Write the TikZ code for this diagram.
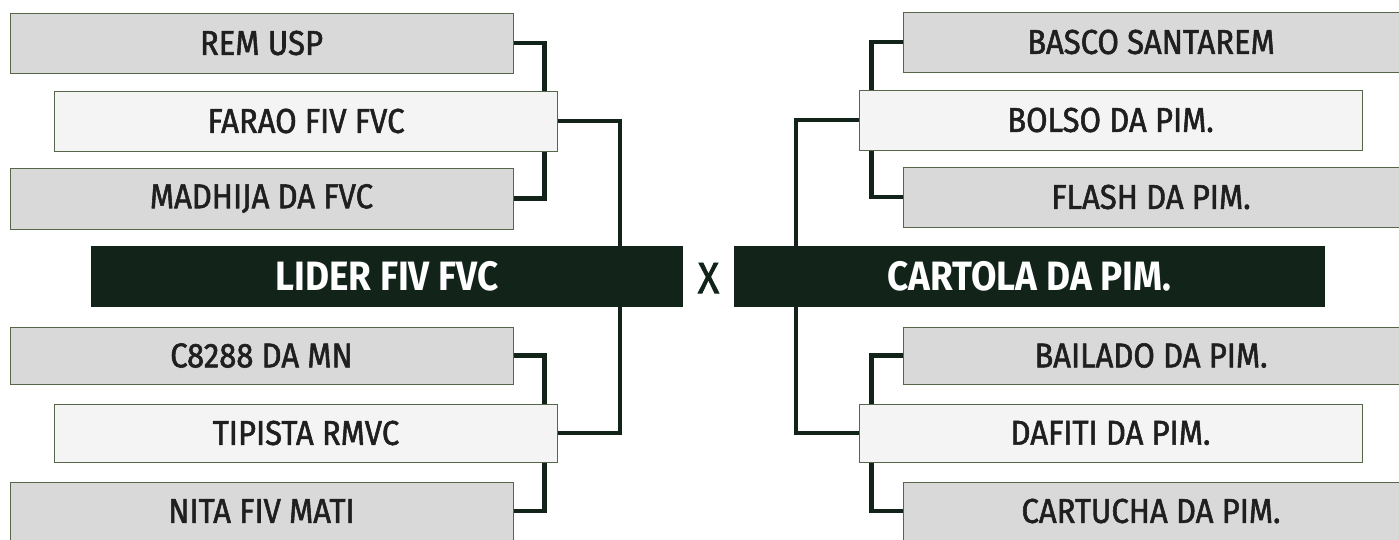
\documentclass[tikz,border=0pt]{standalone}
\usepackage{fontspec}
\setmainfont{Fira Sans}
\newfontfamily\teamfont{Fira Sans}[FakeStretch=0.9, FakeBold=1.6]
\newfontfamily\finalfont{Fira Sans}[FakeStretch=0.9]
\usetikzlibrary{backgrounds, positioning}

\definecolor{pitch}{HTML}{12241A}
\definecolor{boxline}{HTML}{55664A}
\definecolor{seedgray}{HTML}{D9D9D9}
\definecolor{seedlight}{HTML}{F4F4F4}

\begin{document}
\begin{tikzpicture}[
      x=1pt, y=-1pt,
      team/.style = {draw=boxline, line width=1pt, fill=seedgray, inner sep=0pt,
                     minimum width=503pt, minimum height=60pt, text=black!88,
                     font=\teamfont\fontsize{34.5}{34.5}\selectfont},
      seed/.style = {team, fill=seedlight},
      finalist/.style = {fill=pitch, inner sep=0pt, minimum width=592pt,
                         minimum height=61pt, text=white,
                         font=\finalfont\fontsize{41}{41}\selectfont\bfseries},
      bracket/.style = {draw=pitch, line width=4.5pt},
      link/.style = {draw=pitch, line width=4pt},
    ]
    \useasboundingbox (0,0) rectangle (1399,539);

    %% Left half of the draw
    \node (remusp)  [team] at (261.5, 43)  {REM USP};
    \node (farao)   [seed] at (306, 121)   {FARAO FIV FVC};
    \node (madhija) [team, minimum height=61pt] at (261.5, 198.5) {MADHIJA DA FVC};
    \node (lider)   [finalist] at (387, 276.5) {LIDER FIV FVC};
    \node (celta)   [team, minimum height=57pt] at (261.5, 355.5) {C8288 DA MN};
    \node (tipista) [seed, minimum height=58pt] at (306, 433) {TIPISTA RMVC};
    \node (nita)    [team, minimum height=58pt] at (261.5, 511) {NITA FIV MATI};

    %% Right half of the draw
    \node (basco)    [team, minimum width=496pt] at (1151, 42) {BASCO SANTAREM};
    \node (bolso)    [seed] at (1110.5, 120) {BOLSO DA PIM.};
    \node (flash)    [team, minimum width=496pt] at (1151, 197) {FLASH DA PIM.};
    \node (cartola)  [finalist, minimum width=591pt] at (1029.5, 276.5) {CARTOLA DA PIM.};
    \node (bailado)  [team, minimum width=496pt, minimum height=57pt] at (1151, 355.5) {BAILADO DA PIM.};
    \node (dafiti)   [seed, minimum height=58pt] at (1110.5, 433) {DAFITI DA PIM.};
    \node (cartucha) [team, minimum width=496pt, minimum height=58pt] at (1151, 511) {CARTUCHA DA PIM.};

    \node (versus) [font=\teamfont\fontsize{44}{44}\selectfont, text=pitch] at (708.5, 278) {X};

    %% Brackets sit behind the boxes
    \begin{scope}[on background layer]
      \draw [bracket] (remusp.east) -- ++(31, 0) |- (madhija.east);
      \draw [bracket] (celta.east) -- ++(31, 0) |- (nita.east);
      \draw [bracket] (basco.west) -- ++(-31, 0) |- (flash.west);
      \draw [bracket] (bailado.west) -- ++(-31, 0) |- (cartucha.west);

      \draw [link] (farao.east) -| ([xshift=233pt] lider.north);
      \draw [link] (tipista.east) -| ([xshift=233pt] lider.south);
      \draw [link] (bolso.west) -| ([xshift=-233.5pt] cartola.north);
      \draw [link] (dafiti.west) -| ([xshift=-233.5pt] cartola.south);
    \end{scope}
  \end{tikzpicture}
\end{document}
